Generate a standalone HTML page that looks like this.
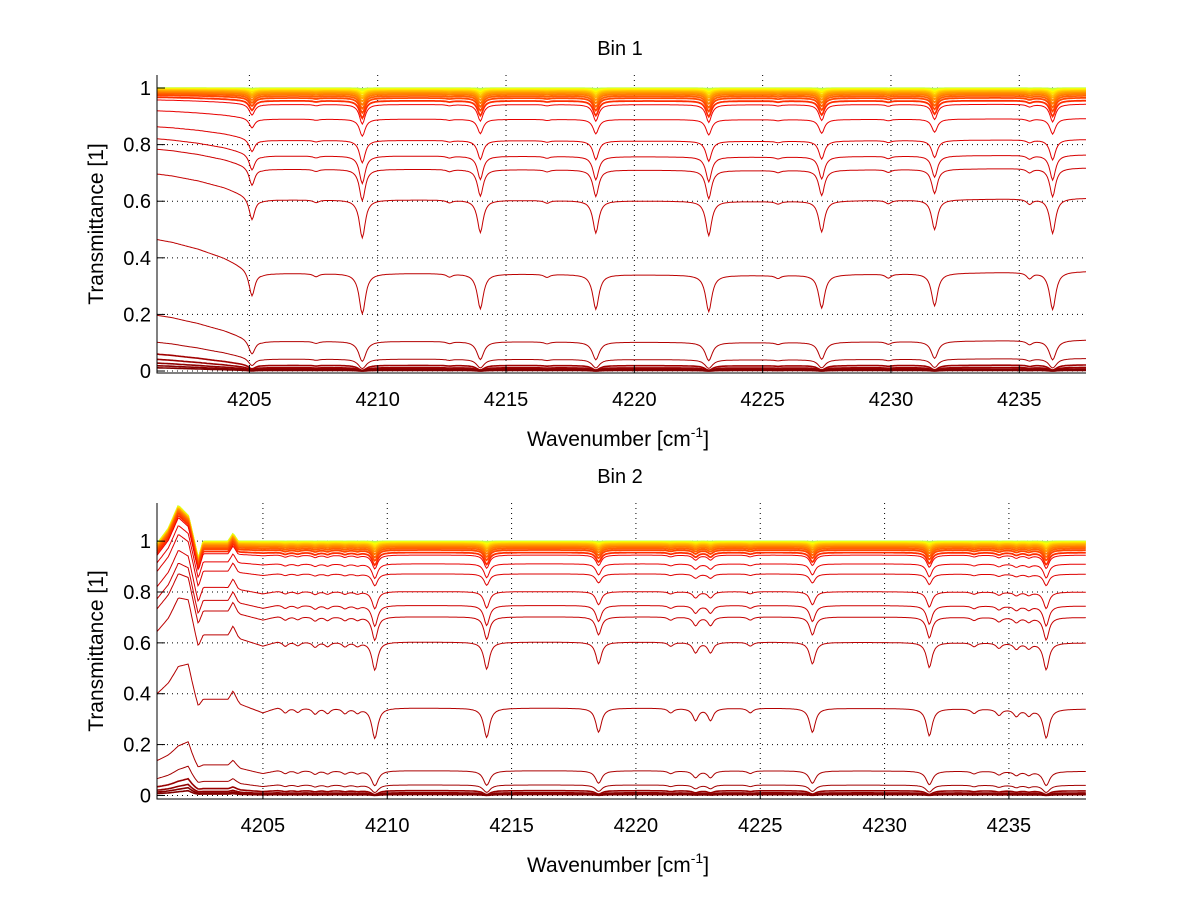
<!DOCTYPE html>
<html><head><meta charset="utf-8">
<style>
html,body{margin:0;padding:0;background:#fff;}
svg{display:block;font-family:"Liberation Sans",Arial,sans-serif;}
</style></head>
<body>
<svg id="fig" width="1200" height="901" viewBox="0 0 1200 901" xmlns="http://www.w3.org/2000/svg">
<rect x="0" y="0" width="1200" height="901" fill="#fff"/>
</svg>
<script>
// ---- Data ----
const xTicks = [4205, 4210, 4215, 4220, 4225, 4230, 4235];
const yTicks = [0, 0.2, 0.4, 0.6, 0.8, 1];
const yTickLabels = ["0", "0.2", "0.4", "0.6", "0.8", "1"];

// Bin 1 baseline transmittance levels (one per curve)
const bin1Levels = [0.999, 0.998, 0.997, 0.995, 0.993, 0.99, 0.987, 0.983, 0.978, 0.972, 0.965, 0.955, 0.942, 0.89, 0.815, 0.76, 0.713, 0.605, 0.345, 0.105, 0.042, 0.02, 0.012, 0.007, 0.004, 0.002];
const bin1LineCenters = [4205.1, 4209.4, 4214.0, 4218.5, 4222.9, 4227.3, 4231.7, 4236.3, 4207.6, 4212.8, 4216.6, 4225.6, 4229.9, 4235.4];
const bin1LineStrengths = [0.28, 0.5, 0.42, 0.42, 0.45, 0.4, 0.38, 0.45, 0.03, 0.03, 0.03, 0.03, 0.04, 0.06];
const bin1ShapeX = [4201.4, 4202.0, 4203.0, 4204.0, 4204.6, 4205.5, 4212, 4225, 4237.6];
const bin1ShapeG = [0.72, 0.74, 0.79, 0.86, 0.92, 1.0, 1.0, 1.02, 0.98];
const bin1BumpX = [4201.4, 4237.6];
const bin1BumpB = [1.0, 1.0];

// Bin 2
const bin2Levels = [0.999, 0.998, 0.997, 0.995, 0.993, 0.99, 0.987, 0.983, 0.978, 0.972, 0.965, 0.955, 0.945, 0.91, 0.87, 0.80, 0.745, 0.70, 0.60, 0.34, 0.095, 0.04, 0.018, 0.01, 0.006, 0.003];
const bin2LineCenters = [4209.5, 4214.0, 4218.5, 4222.4, 4223.0, 4227.1, 4231.8, 4236.5, 4205.9, 4206.4, 4207.1, 4207.6, 4208.3, 4208.8, 4221.4, 4224.6, 4233.6, 4234.6, 4235.3, 4235.8];
const bin2LineStrengths = [0.4, 0.38, 0.3, 0.14, 0.14, 0.3, 0.35, 0.38, 0.06, 0.05, 0.07, 0.06, 0.06, 0.05, 0.05, 0.05, 0.05, 0.07, 0.08, 0.07];
const bin2ShapeX = [4200.74, 4201.2, 4201.6, 4202.0, 4202.4, 4203.6, 4203.8, 4204.1, 4205.0, 4205.6, 4212, 4225, 4238.1];
const bin2ShapeG = [0.84, 0.8, 0.75, 0.7, 0.9, 0.9, 0.85, 0.95, 1.04, 0.98, 0.99, 0.99, 1.0];
const bin2BumpX = [4200.74, 4201.2, 4201.6, 4202.0, 4202.4, 4202.6, 4203.6, 4203.8, 4204.0, 4238.1];
const bin2BumpB = [0.99, 1.05, 1.14, 1.1, 0.93, 1.0, 1.0, 1.03, 1.0, 1.0];

// ---- Drawing ----
const NS = "http://www.w3.org/2000/svg";
const svg = document.getElementById("fig");
function mk(tag, attrs, parent) {
  const e = document.createElementNS(NS, tag);
  for (const k in attrs) e.setAttribute(k, attrs[k]);
  (parent || svg).appendChild(e);
  return e;
}
function interp(xs, ys, x) {
  if (x <= xs[0]) return ys[0];
  for (let i = 1; i < xs.length; i++) {
    if (x <= xs[i]) { const t = (x - xs[i-1]) / (xs[i] - xs[i-1]); return ys[i-1] + t * (ys[i] - ys[i-1]); }
  }
  return ys[ys.length - 1];
}
function jet(t) {
  const r = Math.min(Math.max(Math.min(4*t - 1.5, -4*t + 4.5), 0), 1);
  const g = Math.min(Math.max(Math.min(4*t - 0.5, -4*t + 3.5), 0), 1);
  const b = Math.min(Math.max(Math.min(4*t + 0.5, -4*t + 2.5), 0), 1);
  return "rgb(" + Math.round(r*255) + "," + Math.round(g*255) + "," + Math.round(b*255) + ")";
}

function drawPanel(cfg) {
  const g = mk("g", {});
  
  
  const L = 157, R = 1086, T = cfg.top, B = cfg.bottom;
  const sx = v => L + (v - cfg.xmin) / (cfg.xmax - cfg.xmin) * (R - L);
  const sy = v => B - (v - cfg.ymin) / (cfg.ymax - cfg.ymin) * (B - T);
  xTicks.forEach(v => {
    const l = mk("line", {x1: sx(v), x2: sx(v), y1: T, y2: B, stroke: "#000", "stroke-width": 1, "stroke-dasharray": "1,4"}, g);
    
    
  });
  yTicks.forEach(v => {
    const l = mk("line", {x1: L, x2: R, y1: sy(v), y2: sy(v), stroke: "#000", "stroke-width": 1, "stroke-dasharray": "1,4"}, g);
    
    
  });
  const n = cfg.levels.length;
  const k = cfg.levels.filter(v => v >= 0.95).length;
  cfg.levels.forEach((lv, i) => {
    const tau = -Math.log(lv);
    let t;
    if (i < k) t = 0.55 + 0.28 * (i / Math.max(1, k - 1));
    else t = 0.89 + 0.11 * ((i - k) / Math.max(1, n - 1 - k));
    let d = "";
    for (let x = cfg.xmin; x <= cfg.xmax + 1e-9; x += 0.05) {
      const gg = interp(cfg.shapeX, cfg.shapeG, x);
      let extra = 0;
      for (let j = 0; j < cfg.centers.length; j++) {
        const dx = (x - cfg.centers[j]) / 0.13;
        extra += cfg.strengths[j] / (1 + dx*dx);
      }
      const nearOne = Math.max(0, 1 - tau * 8);
      const v = interp(cfg.bumpX, cfg.bumpB, x) * Math.exp(-tau * (gg + extra * (1 + 3 * nearOne)));
      d += (d ? "L" : "M") + sx(x).toFixed(1) + "," + sy(v).toFixed(1);
    }
    const p = mk("path", {d, fill: "none", stroke: jet(t), "stroke-width": lv > 0.95 ? 1.8 : (lv < 0.03 ? 1.6 : 1)}, g);
    
    
  });
  const ax = mk("path", {d: `M${L},${T}L${L},${B}L${R},${B}`, fill: "none", stroke: "#000", "stroke-width": 1}, g);
  
  
  xTicks.forEach(v => {
    const tk = mk("line", {x1: sx(v), x2: sx(v), y1: B, y2: B - 8, stroke: "#000"}, g);
    
    
    const tx = mk("text", {x: sx(v), y: B + 33, "text-anchor": "middle", "font-size": 20}, g);
    tx.textContent = String(v);
    
    
  });
  yTicks.forEach((v, i) => {
    const tk = mk("line", {x1: L, x2: L + 8, y1: sy(v), y2: sy(v), stroke: "#000"}, g);
    
    
    const tx = mk("text", {x: L - 6, y: sy(v) + 7, "text-anchor": "end", "font-size": 20}, g);
    tx.textContent = yTickLabels[i];
    
    
  });
  const title = mk("text", {x: 620, y: T - 20, "text-anchor": "middle", "font-size": 20}, g);
  title.textContent = cfg.title;
  
  
  const xl = mk("text", {x: 618, y: B + 73, "text-anchor": "middle", "font-size": 21}, g);
  xl.innerHTML = 'Wavenumber [cm<tspan font-size="14" dy="-9">-1</tspan><tspan dy="9">]</tspan>';
  
  
  const yc = (T + B) / 2;
  const yl = mk("text", {x: 103, y: yc, "text-anchor": "middle", "font-size": 21, transform: `rotate(-90 103 ${yc})`}, g);
  yl.textContent = "Transmittance [1]";
  
  
}

drawPanel({name: "bin-1-panel", title: "Bin 1", top: 75, bottom: 373, xmin: 4201.4, xmax: 4237.6, ymin: -0.007, ymax: 1.046,
  levels: bin1Levels, centers: bin1LineCenters, strengths: bin1LineStrengths, shapeX: bin1ShapeX, shapeG: bin1ShapeG, bumpX: bin1BumpX, bumpB: bin1BumpB});
drawPanel({name: "bin-2-panel", title: "Bin 2", top: 503, bottom: 799, xmin: 4200.74, xmax: 4238.1, ymin: -0.014, ymax: 1.15,
  levels: bin2Levels, centers: bin2LineCenters, strengths: bin2LineStrengths, shapeX: bin2ShapeX, shapeG: bin2ShapeG, bumpX: bin2BumpX, bumpB: bin2BumpB});
</script>
</body></html>
